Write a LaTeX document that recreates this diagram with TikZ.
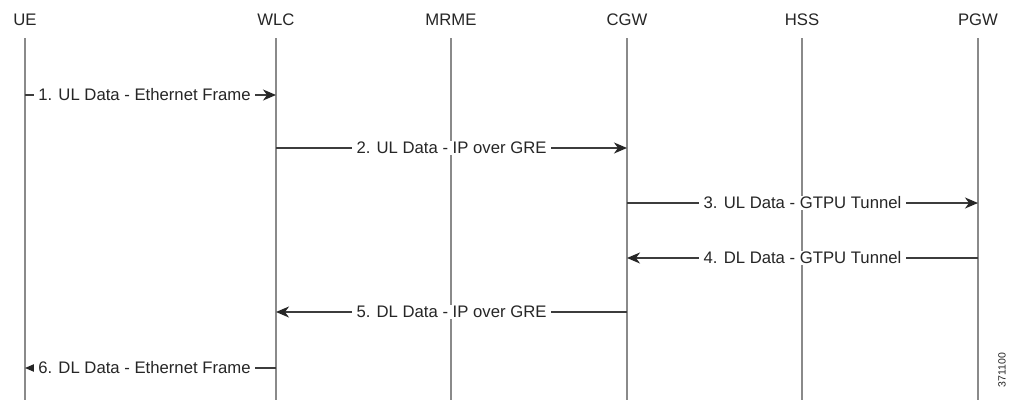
\documentclass[tikz,border=0pt]{standalone}
\usepackage{fontspec}
\setmainfont{Liberation Sans}
\usetikzlibrary{arrows.meta}
\definecolor{life}{HTML}{8A8A8A}
\definecolor{ink}{HTML}{262626}
\definecolor{wire}{HTML}{3C3C3C}
\tikzset{
  head/.style={font=\fontsize{16.7}{19}\selectfont, text=ink, inner sep=0pt, anchor=center},
  lifeline/.style={draw=life, line width=1.2pt},
  msg/.style={draw=wire, line width=1.4pt, -{Stealth[length=13pt,width=11pt,inset=4pt,color=ink]}},
  lbl/.style={font=\fontsize{16.7}{19}\selectfont, text=ink, fill=white, inner xsep=4.5pt, inner ysep=1pt, anchor=center},
}
\begin{document}
\begin{tikzpicture}[x=1pt,y=-1pt]
\useasboundingbox[fill=white] (0,0) rectangle (1015,400);
% headers
\node[head] (hUE)   at (25,20)  {UE};
\node[head] (hWLC)  at (276,20) {WLC};
\node[head] (hMRME) at (451,20) {MRME};
\node[head] (hCGW)  at (627,20) {CGW};
\node[head] (hHSS)  at (802,20) {HSS};
\node[head] (hPGW)  at (978,20) {PGW};
% lifeline ends
\foreach \n/\x in {UE/25,WLC/276,MRME/451,CGW/627,HSS/802,PGW/978}{
  \coordinate (t\n) at (\x,38);
  \coordinate (b\n) at (\x,400);
  \draw[lifeline] (t\n) -- (b\n);
}
% message anchor points
\coordinate (m1a) at (25,95);   \coordinate (m1b) at (276,95);
\coordinate (m2a) at (276,148); \coordinate (m2b) at (627,148);
\coordinate (m3a) at (627,203); \coordinate (m3b) at (978,203);
\coordinate (m4a) at (978,258); \coordinate (m4b) at (627,258);
\coordinate (m5a) at (627,312); \coordinate (m5b) at (276,312);
\coordinate (m6a) at (276,368); \coordinate (m6b) at (25,368);
% messages
\draw[msg] (m1a) -- node[lbl, xshift=-6pt] (l1) {1. UL Data - Ethernet Frame} (m1b);
\draw[msg] (m2a) -- node[lbl] (l2) {2. UL Data - IP over GRE} (m2b);
\draw[msg] (m3a) -- node[lbl] (l3) {3. UL Data - GTPU Tunnel} (m3b);
\draw[msg] (m4a) -- node[lbl] (l4) {4. DL Data - GTPU Tunnel} (m4b);
\draw[msg] (m5a) -- node[lbl] (l5) {5. DL Data - IP over GRE} (m5b);
\draw[msg] (m6a) -- node[lbl, xshift=-6pt] (l6) {6. DL Data - Ethernet Frame} (m6b);
% figure number
\node[font=\fontsize{10.5}{12}\selectfont, text=ink, rotate=90, inner sep=0pt] (fig) at (1002,370) {371100};
\end{tikzpicture}
\end{document}
